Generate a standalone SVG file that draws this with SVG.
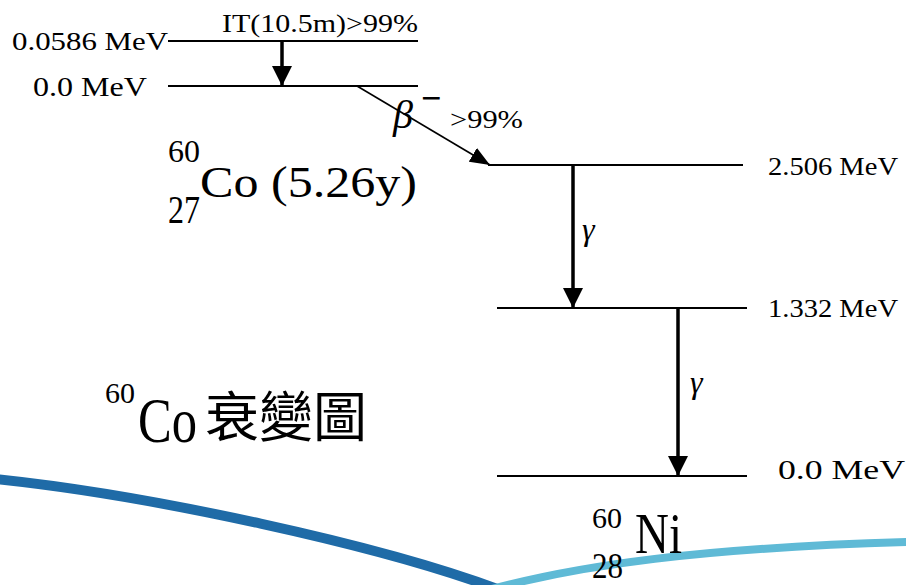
<svg xmlns="http://www.w3.org/2000/svg" width="906" height="585" viewBox="0 0 906 585">
<style>
  text { font-family: "Liberation Serif", "Times New Roman", serif; fill: #000; }
  .cjk { font-family: "Liberation Serif", "Noto Sans CJK TC", serif; }
  .lvl { stroke: #000; stroke-width: 2; fill: none; }
  .arr { stroke: #000; stroke-width: 3.5; fill: none; }
  .thin { stroke: #000; stroke-width: 1.6; fill: none; }
  .it { font-style: italic; }
</style>
<defs>
  <marker id="headV" viewBox="0 0 20 20" refX="20" refY="10" markerWidth="20" markerHeight="20" markerUnits="userSpaceOnUse" orient="auto">
    <path d="M0,0 L20,10 L0,20 z" fill="#000"/>
  </marker>
  <marker id="headB" viewBox="0 0 20 16" refX="20" refY="8" markerWidth="20" markerHeight="16" markerUnits="userSpaceOnUse" orient="auto">
    <path d="M0,0 L20,8 L0,16 z" fill="#000"/>
  </marker>
</defs>
<rect width="906" height="585" fill="#fff"/>
<g id="background">
  <path d="M-5,479 C150,495 380,545 500,590" stroke="#1f6ba7" stroke-width="10" fill="none"/>
  <path d="M488,590 C580,565 700,548 910,542" stroke="#5fbad6" stroke-width="8" fill="none"/>
</g>
<g id="co60-isomer">
  <line class="lvl" x1="168" y1="41" x2="418" y2="41"/>
  <text x="12" y="50" font-size="26" textLength="156" lengthAdjust="spacingAndGlyphs">0.0586  MeV</text>
  <text x="222" y="32" font-size="26" textLength="196" lengthAdjust="spacingAndGlyphs">IT(10.5m)&gt;99%</text>
</g>
<g id="co60-ground">
  <line class="lvl" x1="168" y1="86" x2="418" y2="86"/>
  <text x="33" y="96" font-size="27" textLength="114" lengthAdjust="spacingAndGlyphs">0.0  MeV</text>
  <text x="168" y="162" font-size="32" textLength="32" lengthAdjust="spacingAndGlyphs">60</text>
  <text x="168" y="223" font-size="40" textLength="32" lengthAdjust="spacingAndGlyphs">27</text>
  <text x="200" y="197" font-size="44" textLength="217" lengthAdjust="spacingAndGlyphs">Co (5.26y)</text>
</g>
<g id="ni60-2506">
  <line class="lvl" x1="488" y1="165" x2="743" y2="165"/>
  <text x="768" y="175" font-size="25" textLength="130" lengthAdjust="spacingAndGlyphs">2.506 MeV</text>
</g>
<g id="ni60-1332">
  <line class="lvl" x1="497" y1="308" x2="747" y2="308"/>
  <text x="768" y="317" font-size="25" textLength="130" lengthAdjust="spacingAndGlyphs">1.332 MeV</text>
</g>
<g id="ni60-ground">
  <line class="lvl" x1="497" y1="476" x2="747" y2="476"/>
  <text x="778" y="479" font-size="27" textLength="127" lengthAdjust="spacingAndGlyphs">0.0  MeV</text>
  <text x="592" y="528" font-size="30" textLength="30" lengthAdjust="spacingAndGlyphs">60</text>
  <text x="592" y="578" font-size="36" textLength="31" lengthAdjust="spacingAndGlyphs">28</text>
  <text x="635" y="553" font-size="56" textLength="47" lengthAdjust="spacingAndGlyphs">Ni</text>
</g>
<g id="title">
  <text x="105" y="403" font-size="30" textLength="30" lengthAdjust="spacingAndGlyphs">60</text>
  <text x="138" y="442" font-size="64" textLength="59" lengthAdjust="spacingAndGlyphs">Co</text>
  <text class="cjk" x="205" y="437" font-size="54" textLength="162" lengthAdjust="spacingAndGlyphs">衰變圖</text>
</g>
<g id="connectors">
  <line class="arr" x1="282" y1="41" x2="282" y2="86" marker-end="url(#headV)"/>
  <line class="thin" x1="357" y1="86" x2="490" y2="165" marker-end="url(#headB)"/>
  <text class="it" x="393" y="128" font-size="40">β</text>
  <text x="421" y="110" font-size="36" font-weight="bold">−</text>
  <text x="450" y="128" font-size="25" textLength="73" lengthAdjust="spacingAndGlyphs">&gt;99%</text>
  <line class="arr" x1="573" y1="165" x2="573" y2="308" marker-end="url(#headV)"/>
  <text class="it" x="582" y="240" font-size="32">γ</text>
  <line class="arr" x1="678" y1="308" x2="678" y2="476" marker-end="url(#headV)"/>
  <text class="it" x="690" y="393" font-size="32">γ</text>
</g>
</svg>
